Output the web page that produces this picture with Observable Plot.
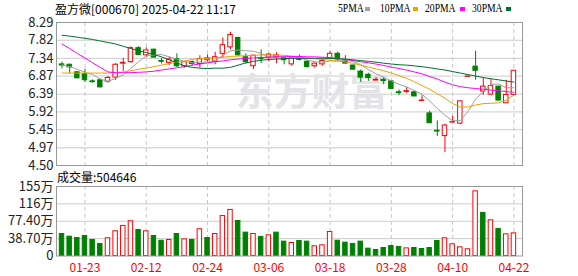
<!DOCTYPE html>
<html><head><meta charset="utf-8">
<script src="https://cdn.jsdelivr.net/npm/d3@7"></script>
<script src="https://cdn.jsdelivr.net/npm/@observablehq/plot@0.6"></script>
<style>
body{margin:0;background:#fff;}
#wrap{position:relative;width:578px;height:276px;overflow:hidden;font-family:"Noto Sans CJK SC",sans-serif;background:#fff;}
.t{position:absolute;white-space:nowrap;z-index:5;color:#000;}
.lg{position:absolute;white-space:nowrap;z-index:5;font-family:"Liberation Serif",serif;font-size:11.5px;line-height:14px;top:1px;color:#000;transform:scaleX(0.84);transform-origin:0 0;}
.sq{position:absolute;width:5px;height:4px;top:7px;z-index:5;}
#price,#vol{position:absolute;left:0;}
#price{top:0;} #vol{top:174px;}
#vol [aria-label="x-axis tick label"]{fill:#f00;}
</style></head><body><div id="wrap">
<div class="t" style="left:55px;top:0px;font-size:12px;line-height:17px;">盈方微[000670] 2025-04-22 11:17</div>
<div class="lg" style="left:338px">5PMA</div><div class="sq" style="left:365px;background:#a0a0a0"></div>
<div class="lg" style="left:380px">10PMA</div><div class="sq" style="left:413px;background:#f0a000"></div>
<div class="lg" style="left:425px">20PMA</div><div class="sq" style="left:460px;background:#ff00ff"></div>
<div class="lg" style="left:472px">30PMA</div><div class="sq" style="left:506px;background:#007030"></div>
<div class="t" style="left:57px;top:169px;font-size:12px;line-height:16px;">成交量:504646</div>
<div id="price"></div><div id="vol"></div>
</div>
<script>
const dates = ["01-20","01-21","01-22","01-23","01-24","01-27","02-05","02-06","02-07","02-10","02-11","02-12","02-13","02-14","02-17","02-18","02-19","02-20","02-21","02-24","02-25","02-26","02-27","02-28","03-03","03-04","03-05","03-06","03-07","03-10","03-11","03-12","03-13","03-14","03-17","03-18","03-19","03-20","03-21","03-24","03-25","03-26","03-27","03-28","03-31","04-01","04-02","04-03","04-07","04-08","04-09","04-10","04-11","04-14","04-15","04-16","04-17","04-18","04-21","04-22"];
const open  = [7.18,7.17,6.97,6.92,6.73,6.76,6.72,6.83,7.20,7.24, 7.61,7.42,7.57,7.27,7.22,7.32,7.13,7.24,7.19,7.29, 7.25,7.46,7.63,7.88,7.37,7.13,7.34,7.36,7.37,7.34, 7.18,7.35,7.25,7.13,7.18,7.34,7.46,7.27,7.15,6.99, 6.90,6.75,6.77,6.73,6.44,6.45,6.44,6.21,5.88,5.42, 5.28,5.64,5.61,6.85,7.12,6.46,6.38,6.59,6.15,6.37];
const high  = [7.24,7.19,6.99,7.05,6.77,6.80,6.86,7.20,7.34,7.64, 7.65,7.62,7.58,7.34,7.37,7.46,7.26,7.27,7.41,7.43, 7.50,7.88,8.03,7.90,7.46,7.42,7.56,7.47,7.49,7.40, 7.36,7.43,7.29,7.21,7.32,7.51,7.51,7.41,7.16,7.03, 6.94,6.83,6.83,6.74,6.50,6.57,6.46,6.35,5.94,5.68, 5.59,5.80,6.21,6.86,7.53,6.82,6.78,6.60,6.76,7.01];
const low   = [7.06,6.93,6.80,6.70,6.68,6.56,6.68,6.75,6.99,7.21, 7.41,7.37,7.35,7.19,7.15,7.10,7.08,7.13,7.08,7.24, 7.17,7.35,7.57,7.40,7.19,7.04,7.20,7.25,7.20,7.17, 7.13,7.27,7.08,7.08,7.14,7.32,7.27,7.19,7.03,6.70, 6.73,6.75,6.64,6.52,6.35,6.41,6.33,6.21,5.61,5.27, 4.84,5.63,5.58,6.85,6.76,6.36,6.35,6.22,6.15,6.37];
const close = [7.15,7.10,6.81,6.76,6.71,6.57,6.82,7.17,7.22,7.61, 7.43,7.55,7.36,7.25,7.31,7.13,7.24,7.19,7.32,7.34, 7.37,7.69,7.96,7.42,7.24,7.41,7.32,7.44,7.42,7.29, 7.34,7.30,7.11,7.20,7.27,7.46,7.31,7.20,7.04,6.83, 6.82,6.77,6.74,6.53,6.42,6.47,6.33,6.22,5.62,5.40, 5.56,5.65,6.20,6.86,7.01,6.59,6.61,6.22,6.37,7.01];
const ma5  = [7.17,7.12,7.05,6.97,6.91,6.79,6.73,6.81,6.90,7.08, 7.25,7.40,7.43,7.44,7.38,7.32,7.26,7.22,7.24,7.24, 7.29,7.42,7.54,7.56,7.54,7.53,7.47,7.38,7.37,7.38, 7.36,7.36,7.29,7.25,7.24,7.27,7.27,7.29,7.26,7.17, 7.04,6.93,6.84,6.74,6.65,6.58,6.49,6.39,6.21,6.01, 5.83,5.69,5.69,5.93,6.26,6.46,6.65,6.66,6.56,6.56];
const ma10 = [6.95,6.95,6.95,6.95,6.95,6.95,6.95,6.96,6.98,7.01, 7.05,7.08,7.12,7.16,7.20,7.24,7.27,7.31,7.33,7.34, 7.35,7.37,7.39,7.40,7.41,7.42,7.43,7.43,7.43,7.42, 7.40,7.37,7.35,7.33,7.31,7.29,7.27,7.24,7.21,7.16, 7.11,7.06,7.01,6.95,6.88,6.81,6.72,6.62,6.52,6.40, 6.28,6.14,6.05,6.05,6.10,6.14,6.15,6.16,6.23,6.37];
const ma20 = [7.72,7.60,7.47,7.35,7.22,7.10,6.98,6.96,6.96,6.96, 6.97,6.98,7.00,7.03,7.06,7.09,7.12,7.16,7.19,7.22, 7.25,7.27,7.30,7.32,7.34,7.35,7.36,7.37,7.38,7.38, 7.39,7.39,7.38,7.38,7.37,7.36,7.34,7.31,7.28,7.25, 7.22,7.19,7.15,7.11,7.07,7.03,6.98,6.93,6.86,6.79, 6.71,6.64,6.59,6.56,6.54,6.52,6.50,6.48,6.46,6.44];
const ma30 = [7.95,7.93,7.90,7.87,7.84,7.80,7.76,7.72,7.66,7.60, 7.54,7.49,7.44,7.38,7.30,7.22,7.14,7.10,7.08,7.07, 7.08,7.08,7.10,7.16,7.22,7.26,7.29,7.31,7.32,7.33, 7.34,7.34,7.34,7.34,7.34,7.34,7.33,7.32,7.30,7.28, 7.26,7.24,7.21,7.19,7.17,7.16,7.14,7.12,7.09,7.06, 7.03,6.99,6.95,6.91,6.87,6.83,6.80,6.77,6.74,6.71];
const volume = [49,43,40,44.6,35.7,26.8,39.4,55,67,77.3, 58,55,44.6,34,35.7,49,37,35.7,59.5,40, 49,89,102.6,78,52,49,42.4,46,52,32, 29,33.5,32,21.6,23.8,53.5,34,29.7,26.8,32, 16.3,13.4,17.8,22.3,20,17,17.8,15.6,17.8,33.5, 39.4,26,19.3,15,144,96,79.5,60,48.3,50.46];
const volumeDir = "dddddduuuududdududud".split("").concat("uuuddududdudduuudddd".split(""), "dddddudddduuuuududuu".split(""));
const priceTicks = [8.29,7.82,7.34,6.87,6.39,5.92,5.45,4.97,4.50];
const volTicks = [0,38.7,77.4,116.1,154.8];
const volTickLabels = ["0","38.70万","77.40万","116万","155万"];
const dateTickIdx = [3,11,19,27,35,43,51,59];

const RED = "#ff0000", GREEN = "#008000";
const xDomain = [-0.718, 60.12];
const hw = 0.29;

const rows = dates.map((d, i) => {
  const up = close[i] >= open[i];
  let top = Math.max(open[i], close[i]), bot = Math.min(open[i], close[i]);
  if (top - bot < 0.012) { const m = (top + bot) / 2; top = m + 0.006; bot = m - 0.006; }
  return {i, d, o: open[i], h: high[i], l: low[i], c: close[i], up, top, bot};
});
const maRows = [];
[["ma5", ma5, "#a0a0a0"], ["ma10", ma10, "#f0a000"], ["ma20", ma20, "#ff00ff"], ["ma30", ma30, "#007030"]]
  .forEach(([k, arr, col]) => arr.forEach((v, i) => maRows.push({k, i, v, col})));

const price = Plot.plot({
  width: 578, height: 174, marginLeft: 56, marginRight: 56, marginTop: 22, marginBottom: 9,
  style: {background: "transparent", fontFamily: "'Noto Sans CJK SC', sans-serif", fontSize: "13px", color: "#222"},
  x: {domain: xDomain, axis: null},
  y: {domain: [4.50, 8.29], axis: null},
  color: {type: "identity"},
  marks: [
    Plot.ruleY(priceTicks.slice(1, -1), {stroke: "#cccccc", strokeOpacity: 1}),
    Plot.ruleX(dateTickIdx, {stroke: "#c8c8c8", strokeOpacity: 1, strokeDasharray: "4,3"}),
    Plot.text(["东方财富"], {frameAnchor: "middle", dx: 22, dy: -1, fontSize: 38, fontWeight: "bold", fill: "#e4e4e8"}),
    Plot.ruleX(rows, {x: "i", y1: "l", y2: "h", stroke: d => d.up ? RED : GREEN, strokeOpacity: 1}),
    Plot.rect(rows, {x1: d => d.i - hw, x2: d => d.i + hw, y1: "bot", y2: "top", fill: d => d.up ? "#ffffff" : GREEN, stroke: d => d.up ? RED : GREEN}),
    Plot.line(maRows, {x: "i", y: "v", z: "k", stroke: "col", strokeWidth: 1, strokeOpacity: 1}),
    Plot.frame({stroke: "#999999"}),
    Plot.axisY({ticks: priceTicks, tickSize: 0, tickPadding: 3, tickFormat: d => d.toFixed(2), fontSize: 13, label: null, fill: "#222"})
  ]
});
document.getElementById("price").appendChild(price);

const vrows = volume.map((v, i) => ({i, v, up: volumeDir[i] === "u"}));
const vol = Plot.plot({
  width: 578, height: 102, marginLeft: 56, marginRight: 56, marginTop: 12, marginBottom: 20.5,
  style: {background: "transparent", fontFamily: "'Noto Sans CJK SC', sans-serif", fontSize: "13px", color: "#222"},
  x: {domain: xDomain, axis: null},
  y: {domain: [0, 154.8], axis: null},
  color: {type: "identity"},
  marks: [
    Plot.ruleY(volTicks.slice(1, -1), {stroke: "#cccccc", strokeOpacity: 1}),
    Plot.ruleX(dateTickIdx, {stroke: "#c8c8c8", strokeOpacity: 1, strokeDasharray: "4,3"}),
    Plot.rect(vrows, {x1: d => d.i - hw, x2: d => d.i + hw, y1: 0, y2: "v", fill: d => d.up ? "#ffffff" : GREEN, stroke: d => d.up ? RED : GREEN}),
    Plot.frame({stroke: "#999999"}),
    Plot.axisY({ticks: volTicks, tickSize: 0, tickPadding: 3, tickFormat: d => volTickLabels[volTicks.indexOf(d)], fontSize: 13, label: null, fill: "#222"}),
    Plot.axisX({ticks: dateTickIdx, tickSize: 0, tickPadding: 7, tickFormat: i => dates[i], fontSize: 12, label: null, fill: RED})
  ]
});
document.getElementById("vol").appendChild(vol);
</script></body></html>
